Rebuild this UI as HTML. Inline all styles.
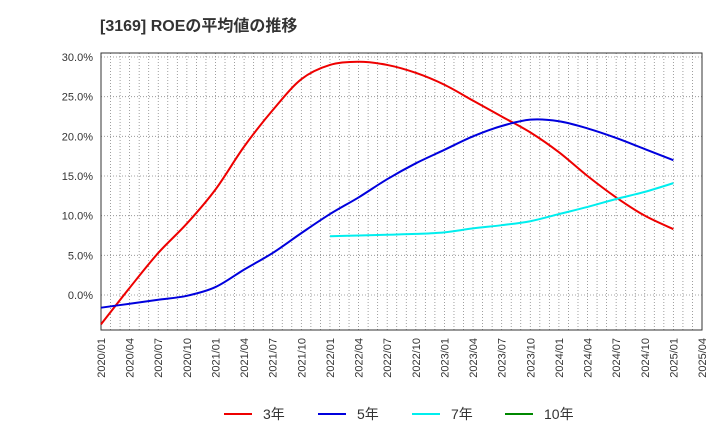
<!DOCTYPE html>
<html><head><meta charset="utf-8"><style>
body{margin:0;background:#fff;font-family:"Liberation Sans","Noto Sans CJK JP",sans-serif;}
</style></head><body>
<svg id="c" width="720" height="440" xmlns="http://www.w3.org/2000/svg">
<text x="100" y="31" font-size="16" font-weight="bold" fill="#333">[3169]  ROEの平均値の推移</text>
</svg>
<script>
const xLabels=["2020/01","2020/04","2020/07","2020/10","2021/01","2021/04","2021/07","2021/10","2022/01","2022/04","2022/07","2022/10","2023/01","2023/04","2023/07","2023/10","2024/01","2024/04","2024/07","2024/10","2025/01","2025/04"];
const yTicks=[0,5,10,15,20,25,30];
const s3=[-3.7,0.9,5.3,9.0,13.3,18.7,23.3,27.2,29.0,29.4,29.0,28.0,26.5,24.5,22.5,20.5,18.0,15.0,12.3,10.0,8.3];
const s5=[-1.6,-1.1,-0.6,-0.1,1.0,3.2,5.3,7.8,10.2,12.3,14.6,16.6,18.3,20.0,21.3,22.1,21.9,21.0,19.8,18.4,17.0];
const s7=[null,null,null,null,null,null,null,null,7.4,7.5,7.6,7.7,7.9,8.4,8.8,9.3,10.2,11.1,12.1,13.0,14.1];
const s10=[];
const svg=document.getElementById('c');const NS="http://www.w3.org/2000/svg";
const L=101,R=702,T=53,B=330;
const X=i=>L+(R-L)*i/21;
const Y=v=>295-v*(295-57)/30;
function el(t,a,p){const e=document.createElementNS(NS,t);for(const k in a)e.setAttribute(k,a[k]);(p||svg).appendChild(e);return e;}
const g=el('g',{});


for(let m=1;m<63;m++){const x=L+(R-L)*m/63;el('line',{x1:x,x2:x,y1:T,y2:B,stroke:'#888','stroke-dasharray':'1,2','stroke-width':0.8},g);}
yTicks.forEach(v=>{el('line',{x1:L,x2:R,y1:Y(v),y2:Y(v),stroke:'#888','stroke-dasharray':'1,2','stroke-width':0.8},g);
const t=el('text',{x:L-8,y:Y(v)+4,'text-anchor':'end','font-size':11,fill:'#333'});t.textContent=v.toFixed(1)+'%';

});
const fr=el('rect',{x:L,y:T,width:R-L,height:B-T,fill:'none',stroke:'#333','stroke-width':1});


xLabels.forEach((lb,i)=>{const x=X(i);const t=el('text',{x:0,y:0,'text-anchor':'end','font-size':11,fill:'#333',transform:`translate(${x+4},${B+8}) rotate(-90)`});t.textContent=lb;

});
function path(arr,color,name){const pts=[];arr.forEach((v,i)=>{if(v!=null)pts.push([X(i),Y(v)]);});if(pts.length<2)return;
let d='M'+pts[0][0]+','+pts[0][1];
for(let i=0;i<pts.length-1;i++){const p0=pts[i-1]||pts[i],p1=pts[i],p2=pts[i+1],p3=pts[i+2]||p2;
d+=` C${p1[0]+(p2[0]-p0[0])/6},${p1[1]+(p2[1]-p0[1])/6} ${p2[0]-(p3[0]-p1[0])/6},${p2[1]-(p3[1]-p1[1])/6} ${p2[0]},${p2[1]}`;}
const p=el('path',{d:d,fill:'none',stroke:color,'stroke-width':2});

}
path(s3,'#e00','series-3yr');path(s5,'#00d','series-5yr');path(s7,'#0ee','series-7yr');path(s10,'#080','series-10yr');
[['3年','#e00',224],['5年','#00d',318],['7年','#0ee',412],['10年','#080',505]].forEach(([n,c,x])=>{
const lg=el('g',{});


el('line',{x1:x,x2:x+28,y1:414,y2:414,stroke:c,'stroke-width':2},lg);
const t=el('text',{x:x+39,y:419,'font-size':14,fill:'#333'},lg);t.textContent=n;});
</script>
</body></html>
